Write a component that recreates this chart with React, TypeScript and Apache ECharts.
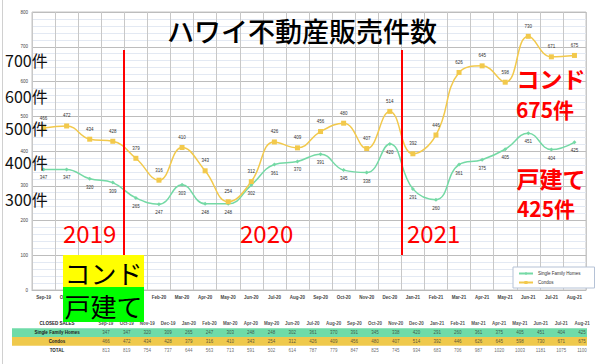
import React, { useEffect, useRef } from "react";
import * as echarts from "echarts";

const months = [
  "Sep-19", "Oct-19", "Nov-19", "Dec-19", "Jan-20", "Feb-20", "Mar-20", "Apr-20",
  "May-20", "Jun-20", "Jul-20", "Aug-20", "Sep-20", "Oct-20", "Nov-20", "Dec-20",
  "Jan-21", "Feb-21", "Mar-21", "Apr-21", "May-21", "Jun-21", "Jul-21", "Aug-21",
];
const singleFamily = [
  347, 347, 320, 309, 265, 247, 303, 248, 248, 302, 361, 370,
  391, 345, 338, 420, 291, 260, 361, 375, 405, 451, 404, 425,
];
const condos = [
  466, 472, 434, 428, 379, 316, 410, 343, 254, 312, 426, 409,
  456, 480, 407, 514, 392, 446, 626, 645, 598, 730, 671, 675,
];
const totals = [
  813, 819, 754, 737, 644, 563, 713, 591, 502, 614, 787, 779,
  847, 825, 745, 934, 683, 706, 987, 1020, 1003, 1181, 1075, 1100,
];
const tableRows = ["CLOSED SALES", "Single Family Homes", "Condos", "TOTAL"];
const leftNotes = ["700件", "600件", "500件", "400件", "300件"];
const yearNotes = ["2019", "2020", "2021"];

const GREEN = "#74d9a5";
const GOLD = "#f2c94c";
const JP = "Noto Sans CJK JP";
const SMALL = "Liberation Sans";

export default function App() {
  const ref = useRef<HTMLDivElement>(null);
  useEffect(() => {
    if (!ref.current) return;
    const chart = echarts.init(ref.current, null, { renderer: "svg" });
    const tinyLabel = { fontSize: 4.5, color: "#333", fontFamily: SMALL };
    const leftY = [60, 96, 128, 162, 199];
    const yearX = [63, 240, 407];
    const option: any = {
      animation: false,
      backgroundColor: "#fff",
      textStyle: { fontFamily: SMALL },
      legend: {
        data: ["Single Family Homes", "Condos"],
        orient: "vertical",
        left: 513,
        top: 267,
        width: 72,
        itemWidth: 14,
        itemHeight: 4,
        itemGap: 4,
        padding: [4, 14, 3, 5],
        backgroundColor: "#fff",
        borderColor: "#b5c2d6",
        borderWidth: 1,
        textStyle: { fontSize: 4.5, color: "#333" },
      },
      grid: [
        { left: 32, right: 14, top: 12, bottom: 74, show: true, borderColor: "#c4c4c4", borderWidth: 1 },
        { left: 12, right: 13, top: 319.5, height: 35 },
      ],
      xAxis: [
        {
          type: "category",
          data: months,
          gridIndex: 0,
          boundaryGap: true,
          axisLine: { lineStyle: { color: "#bbb" } },
          axisTick: { show: false },
          axisLabel: { fontSize: 4.5, fontWeight: "bold", color: "#444", margin: 5, interval: 0 },
          splitLine: { show: true, interval: 0, lineStyle: { color: "#c8c8c8", width: 1 } },
        },
        {
          type: "value",
          gridIndex: 1,
          min: -4.54,
          max: 23.24,
          show: false,
          splitLine: { show: false },
        },
      ],
      yAxis: [
        {
          type: "value",
          gridIndex: 0,
          min: 0,
          max: 800,
          interval: 100,
          axisLine: { show: false },
          axisTick: { show: false },
          axisLabel: { fontSize: 4.5, color: "#444", margin: 4 },
          splitLine: { lineStyle: { color: "#bdbdbd", width: 1 } },
          minorTick: { show: false, splitNumber: 5 },
          minorSplitLine: { show: true, lineStyle: { color: "#e3e9f3", width: 1 } },
        },
        {
          type: "category",
          gridIndex: 1,
          data: tableRows,
          inverse: true,
          axisLine: { show: false },
          axisTick: { show: false },
          axisLabel: {
            inside: true,
            align: "center",
            margin: 45,
            fontSize: 4.5,
            fontWeight: "bold",
            color: "#222",
          },
          splitLine: { show: false },
          splitArea: {
            show: true,
            areaStyle: { color: ["rgba(255,255,255,0)", "#6fdba8", "#efc94c", "rgba(255,255,255,0)"] },
          },
        },
      ],
      series: [
        {
          name: "Single Family Homes",
          type: "line",
          data: singleFamily,
          smooth: 0.45,
          symbol: "diamond",
          symbolSize: 4,
          color: GREEN,
          lineStyle: { width: 1.5, color: GREEN },
          itemStyle: { color: GREEN },
          label: { show: true, position: "bottom", distance: 4, ...tinyLabel },
          z: 3,
        },
        {
          name: "Condos",
          type: "line",
          data: condos,
          smooth: 0.45,
          symbol: "rect",
          symbolSize: 5,
          color: GOLD,
          lineStyle: { width: 1.5, color: GOLD },
          itemStyle: { color: GOLD },
          label: { show: true, position: "top", distance: 5, ...tinyLabel },
          z: 3,
        },
        {
          type: "scatter",
          xAxisIndex: 1,
          yAxisIndex: 1,
          symbolSize: 0,
          data: months.map((m, i) => [i, tableRows[0], m]),
          label: { show: true, position: "inside", formatter: (p: any) => p.data[2], fontSize: 4.5, fontWeight: "bold", color: "#222" },
        },
        {
          type: "scatter",
          xAxisIndex: 1,
          yAxisIndex: 1,
          symbolSize: 0,
          data: singleFamily.map((v, i) => [i, tableRows[1], v]),
          label: { show: true, position: "inside", formatter: (p: any) => String(p.data[2]), fontSize: 4.5, color: "#333" },
        },
        {
          type: "scatter",
          xAxisIndex: 1,
          yAxisIndex: 1,
          symbolSize: 0,
          data: condos.map((v, i) => [i, tableRows[2], v]),
          label: { show: true, position: "inside", formatter: (p: any) => String(p.data[2]), fontSize: 4.5, color: "#333" },
        },
        {
          type: "scatter",
          xAxisIndex: 1,
          yAxisIndex: 1,
          symbolSize: 0,
          data: totals.map((v, i) => [i, tableRows[3], v]),
          label: { show: true, position: "inside", formatter: (p: any) => String(p.data[2]), fontSize: 4.5, color: "#444" },
        },
      ],
      graphic: [
        { type: "line", z: 50, shape: { x1: 2.5, y1: 0, x2: 2.5, y2: 364 }, style: { stroke: "#d0d0d0", lineWidth: 1 } },
        {
          type: "text", z: 100, x: 302, y: 30,
          style: { text: "ハワイ不動産販売件数", font: `500 27px "${JP}"`, fill: "#000", textAlign: "center", textVerticalAlign: "middle" },
        },
        ...leftNotes.map((t, i) => ({
          type: "text", z: 100, x: 5, y: leftY[i],
          style: { text: t, font: `16px "${JP}"`, fill: "#111", textAlign: "left", textVerticalAlign: "middle" },
        })),
        { type: "line", z: 100, shape: { x1: 124, y1: 50, x2: 124, y2: 255 }, style: { stroke: "#ff0000", lineWidth: 2 } },
        { type: "line", z: 100, shape: { x1: 402, y1: 50, x2: 402, y2: 255 }, style: { stroke: "#ff0000", lineWidth: 2 } },
        ...yearNotes.map((t, i) => ({
          type: "text", z: 100, x: yearX[i], y: 232,
          style: { text: t, font: `24px "${JP}"`, fill: "#ff0000", textAlign: "left", textVerticalAlign: "middle" },
        })),
        {
          type: "text", z: 100, x: 551, y: 78,
          style: { text: "コンド", font: `bold 23px "${JP}"`, fill: "#ff0000", textAlign: "center", textVerticalAlign: "middle" },
        },
        {
          type: "text", z: 100, x: 545, y: 109,
          style: { text: "675件", font: `bold 21px "${JP}"`, fill: "#ff0000", textAlign: "center", textVerticalAlign: "middle" },
        },
        {
          type: "text", z: 100, x: 551, y: 178,
          style: { text: "戸建て", font: `bold 23px "${JP}"`, fill: "#ff0000", textAlign: "center", textVerticalAlign: "middle" },
        },
        {
          type: "text", z: 100, x: 546, y: 208,
          style: { text: "425件", font: `bold 21px "${JP}"`, fill: "#ff0000", textAlign: "center", textVerticalAlign: "middle" },
        },
        { type: "rect", z: 100, shape: { x: 63, y: 255, width: 81, height: 32 }, style: { fill: "#ffff00" } },
        {
          type: "text", z: 101, x: 103.5, y: 272,
          style: { text: "コンド", font: `26px "${JP}"`, fill: "#000", textAlign: "center", textVerticalAlign: "middle" },
        },
        { type: "rect", z: 100, shape: { x: 63, y: 287, width: 81, height: 35 }, style: { fill: "#00ff00" } },
        {
          type: "text", z: 101, x: 103.5, y: 305,
          style: { text: "戸建て", font: `26px "${JP}"`, fill: "#000", textAlign: "center", textVerticalAlign: "middle" },
        },
      ],
    };
    chart.setOption(option);
    return () => chart.dispose();
  }, []);
  return <div ref={ref} style={{ width: 600, height: 364, position: "absolute", left: 0, top: 0 }} />;
}
